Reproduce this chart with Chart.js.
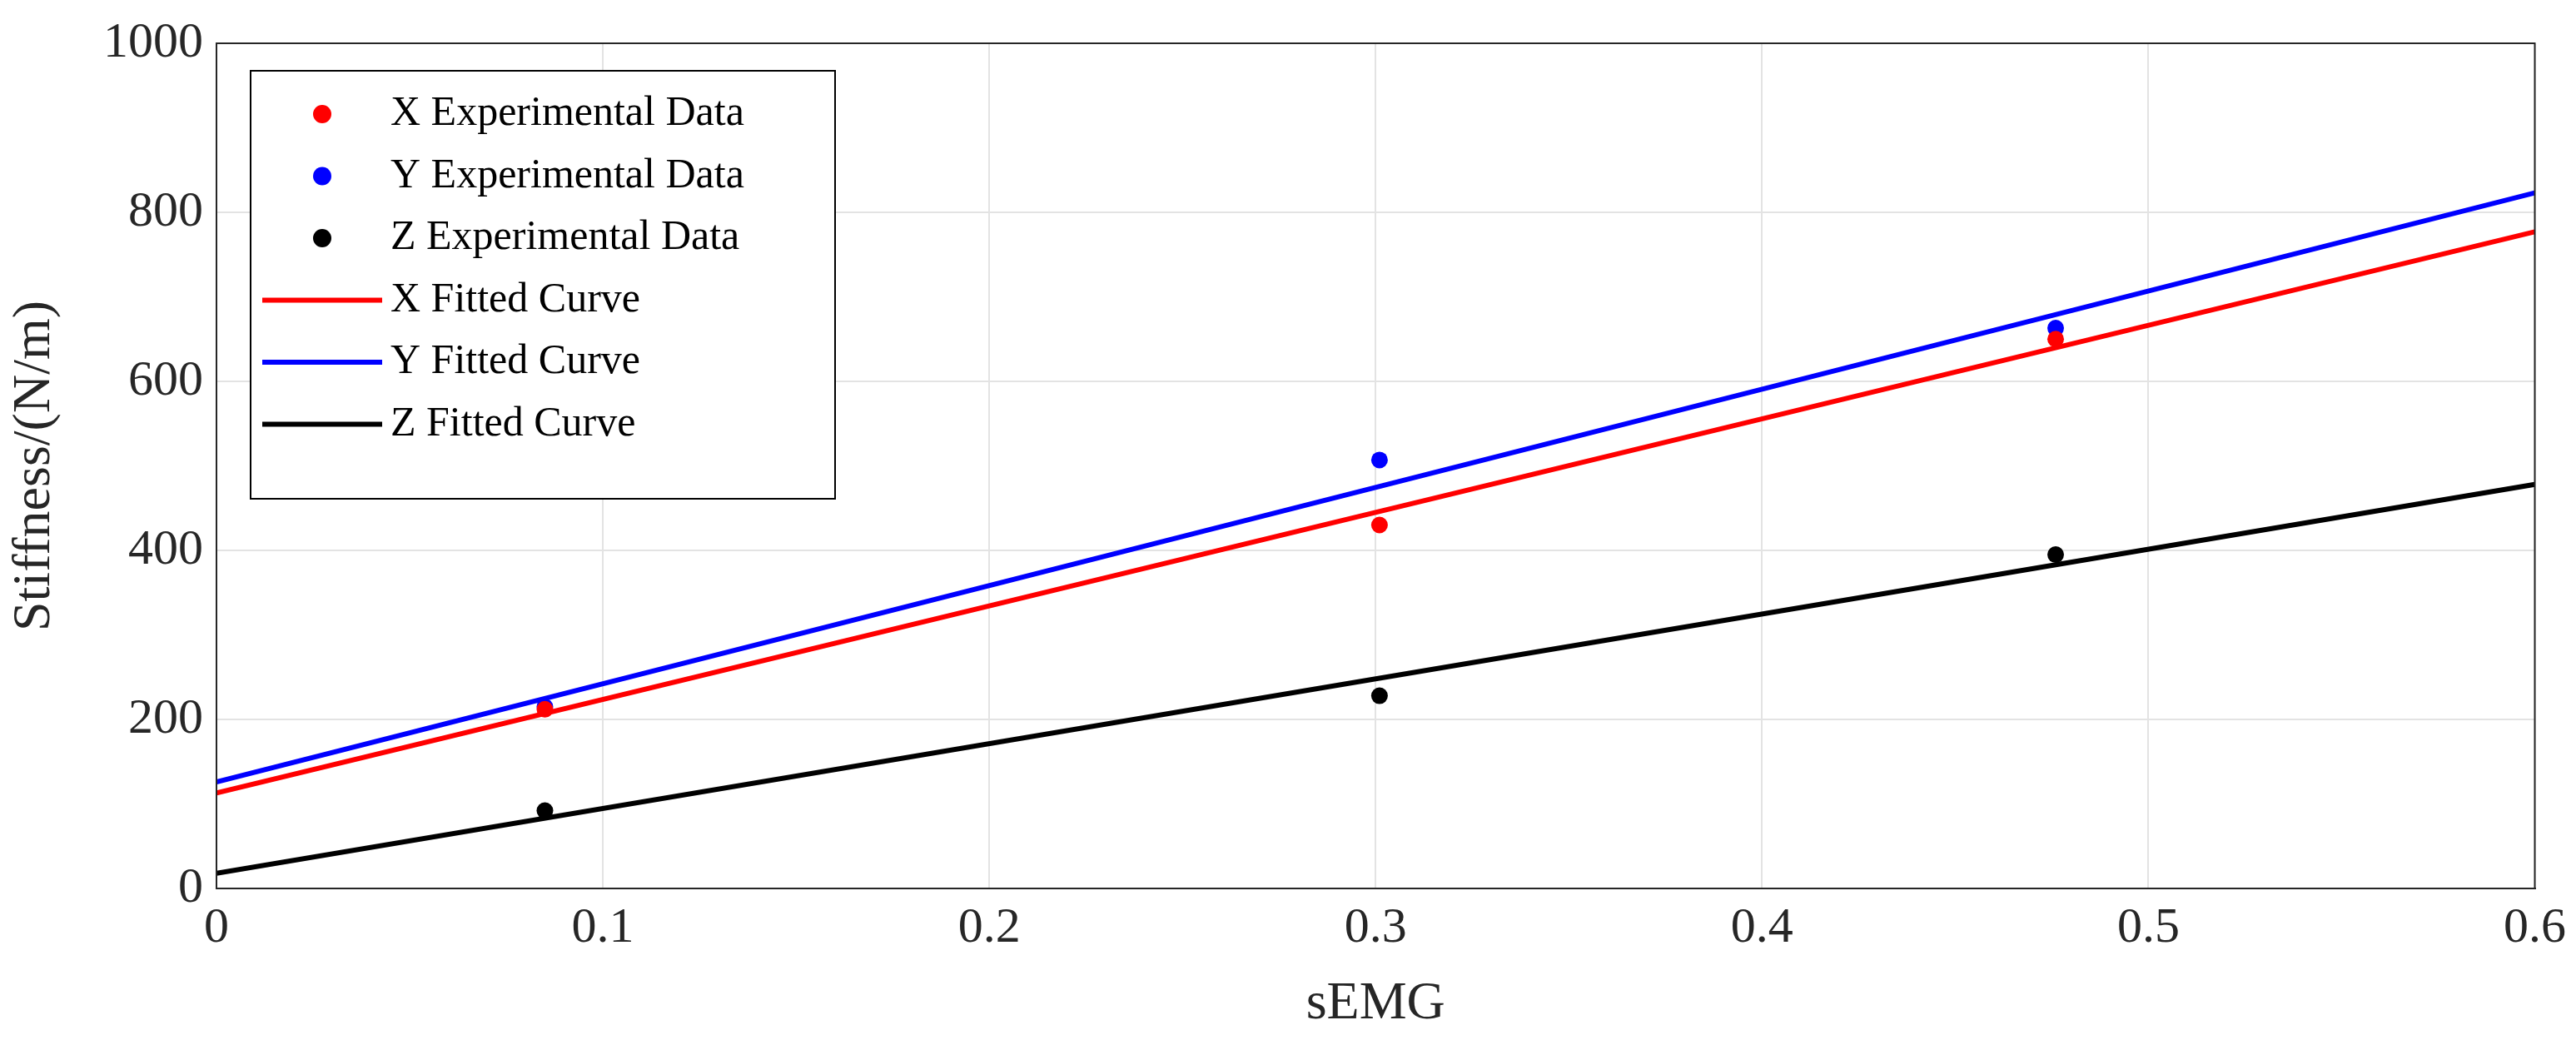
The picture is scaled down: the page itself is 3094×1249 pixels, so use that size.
<!DOCTYPE html>
<html><head><meta charset="utf-8">
<script src="https://cdn.jsdelivr.net/npm/chart.js"></script>
<style>html,body{margin:0;padding:0;background:#fff}#w{width:3094px;height:1249px}</style>
</head><body><div id="w"><canvas id="c"></canvas></div>
<script>
const xExp = [0.085, 0.301, 0.476];
const xStiff = [212, 430, 650];
const yStiff = [215, 507, 663];
const zStiff = [92, 228, 395];
const fitX = [0, 0.6];
const xFit = [113, 777];
const yFit = [126, 823];
const zFit = [18, 478];
const legendLabels = ['X Experimental Data','Y Experimental Data','Z Experimental Data','X Fitted Curve','Y Fitted Curve','Z Fitted Curve'];
const colors = ['#ff0000','#0000ff','#000000'];

const pts = (xs, ys) => xs.map((x,i)=>({x, y: ys[i]}));
const FONT = '"Liberation Serif", "Times New Roman", serif';

const datasets = [
  {label: legendLabels[0], data: pts(xExp,xStiff), type:'scatter', showLine:false, pointRadius:10, backgroundColor:colors[0], borderWidth:0},
  {label: legendLabels[1], data: pts(xExp,yStiff), type:'scatter', showLine:false, pointRadius:10, backgroundColor:colors[1], borderWidth:0},
  {label: legendLabels[2], data: pts(xExp,zStiff), type:'scatter', showLine:false, pointRadius:10, backgroundColor:colors[2], borderWidth:0},
  {label: legendLabels[3], data: pts(fitX,xFit), type:'line', borderColor:colors[0], borderWidth:6, pointRadius:0},
  {label: legendLabels[4], data: pts(fitX,yFit), type:'line', borderColor:colors[1], borderWidth:6, pointRadius:0},
  {label: legendLabels[5], data: pts(fitX,zFit), type:'line', borderColor:colors[2], borderWidth:6, pointRadius:0},
];
datasets.forEach((d,i)=>{ d.order = i<3 ? 0 : 1; });

const legendPlugin = {
  id:'boxLegend',
  afterDraw(chart){
    const ctx = chart.ctx, a = chart.chartArea;
    ctx.save();
    ctx.strokeStyle='#262626'; ctx.lineWidth=2;
    ctx.strokeRect(a.left, a.top, a.right-a.left, a.bottom-a.top);
    const bx = a.left+41, by = a.top+33, bw = 702, bh = 514;
    ctx.fillStyle='#fff'; ctx.fillRect(bx,by,bw,bh);
    ctx.strokeStyle='#000'; ctx.lineWidth=2; ctx.strokeRect(bx,by,bw,bh);
    ctx.font = '50px '+FONT; ctx.textBaseline='middle'; ctx.fillStyle='#000';
    const rowH = 74.5;
    legendLabels.forEach((t,i)=>{
      const cy = by + 52 + i*rowH;
      const col = colors[i%3];
      if(i<3){
        ctx.fillStyle=col; ctx.beginPath(); ctx.arc(bx+86, cy, 11, 0, Math.PI*2); ctx.fill();
      } else {
        ctx.strokeStyle=col; ctx.lineWidth=6; ctx.beginPath(); ctx.moveTo(bx+14,cy); ctx.lineTo(bx+158,cy); ctx.stroke();
      }
      ctx.fillStyle='#000'; ctx.fillText(t, bx+168, cy);
    });
    ctx.restore();
  }
};

new Chart(document.getElementById('c'), {
  type:'scatter',
  data:{datasets},
  options:{
    responsive:true, maintainAspectRatio:false, animation:false, devicePixelRatio:1,
    layout:{padding:{top:50,right:46,left:0,bottom:0}},
    plugins:{legend:{display:false}, tooltip:{enabled:false}},
    scales:{
      x:{type:'linear', min:0, max:0.6,
        ticks:{stepSize:0.1, font:{family:FONT,size:60}, color:'#262626', padding:12, maxRotation:0,
          callback:v=>Number(v.toFixed(1)).toString()},
        grid:{color:'#e3e3e3', lineWidth:2, drawTicks:false},
        border:{color:'#262626', width:2},
        title:{display:true, text:'sEMG', font:{family:FONT,size:64}, color:'#262626', padding:{top:0}},
        afterFit(s){ s.height = 182; }
      },
      y:{min:0, max:1000,
        ticks:{stepSize:200, font:{family:FONT,size:60}, color:'#262626', padding:16,
          callback:v=>String(v)},
        grid:{color:'#e3e3e3', lineWidth:2, drawTicks:false},
        border:{color:'#262626', width:2},
        title:{display:true, text:'Stiffness/(N/m)', font:{family:FONT,size:64}, color:'#262626', padding:{bottom:6}},
        afterFit(s){ s.width = 260; }
      }
    }
  },
  plugins:[legendPlugin]
});
</script></body></html>
